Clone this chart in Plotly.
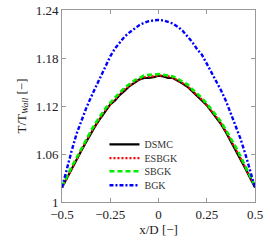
import plotly.graph_objects as go

x = [-0.5, -0.475, -0.45, -0.425, -0.4, -0.375, -0.35, -0.325, -0.3, -0.275,
     -0.25, -0.225, -0.2, -0.175, -0.15, -0.125, -0.1, -0.075, -0.05, -0.025,
     0.0, 0.025, 0.05, 0.075, 0.1, 0.125, 0.15, 0.175, 0.2, 0.225,
     0.25, 0.275, 0.3, 0.325, 0.35, 0.375, 0.4, 0.425, 0.45, 0.475, 0.5]

dsmc = [1.018, 1.030, 1.041, 1.052, 1.064, 1.075, 1.086, 1.096, 1.105, 1.114,
        1.122, 1.127, 1.134, 1.139, 1.145, 1.149, 1.153, 1.155, 1.155, 1.156,
        1.158, 1.157, 1.155, 1.155, 1.152, 1.148, 1.144, 1.138, 1.133, 1.127,
        1.121, 1.113, 1.105, 1.097, 1.087, 1.076, 1.065, 1.054, 1.042, 1.030, 1.018]

esbgk = [1.018, 1.030, 1.042, 1.053, 1.065, 1.076, 1.087, 1.097, 1.106, 1.115,
         1.122, 1.129, 1.135, 1.141, 1.146, 1.150, 1.153, 1.156, 1.157, 1.157,
         1.158, 1.158, 1.157, 1.155, 1.152, 1.149, 1.145, 1.139, 1.134, 1.128,
         1.121, 1.114, 1.106, 1.098, 1.088, 1.077, 1.066, 1.055, 1.043, 1.031, 1.019]

sbgk = [1.019, 1.032, 1.044, 1.055, 1.067, 1.078, 1.089, 1.099, 1.108, 1.117,
        1.124, 1.131, 1.137, 1.143, 1.148, 1.152, 1.155, 1.158, 1.159, 1.159,
        1.160, 1.159, 1.158, 1.157, 1.154, 1.151, 1.147, 1.141, 1.136, 1.130,
        1.123, 1.116, 1.108, 1.100, 1.090, 1.080, 1.069, 1.057, 1.045, 1.033, 1.020]

bgk = [1.018, 1.042, 1.064, 1.085, 1.102, 1.117, 1.131, 1.144, 1.157, 1.171,
       1.182, 1.192, 1.200, 1.207, 1.212, 1.217, 1.221, 1.224, 1.226, 1.227,
       1.2275, 1.227, 1.225, 1.223, 1.219, 1.214, 1.207, 1.200, 1.191, 1.184,
       1.173, 1.162, 1.150, 1.139, 1.126, 1.110, 1.096, 1.079, 1.060, 1.039, 1.018]

x_ticks = [-0.5, -0.25, 0, 0.25, 0.5]
x_tick_text = ["−0.5", "−0.25", "0", "0.25", "0.5"]
y_ticks = [1.0, 1.06, 1.12, 1.18, 1.24]
y_tick_text = ["1", "1.06", "1.12", "1.18", "1.24"]

FONT = "'Liberation Serif', 'DejaVu Serif', serif"

fig = go.Figure()
series = [
    ("DSMC", dsmc, "black", "solid", 2.2, "legend"),
    ("ESBGK", esbgk, "red", "2px,2px", 2.2, "legend2"),
    ("SBGK", sbgk, "#00ee00", "5px,3px", 2.6, "legend3"),
    ("BGK", bgk, "blue", "4px,2px,2px,2px", 2.4, "legend4"),
]
for name, ys, col, dash, w, lg in series:
    fig.add_trace(go.Scatter(x=x, y=ys, mode="lines", name=name,
                             line=dict(color=col, dash=dash, width=w),
                             legend=lg, showlegend=True))

leg_common = dict(bgcolor="rgba(0,0,0,0)", borderwidth=0,
                  font=dict(family=FONT, size=10, color="#333"),
                  xanchor="left", yanchor="middle", x=0.22,
                  itemwidth=30)
ys_leg = [0.300, 0.228, 0.160, 0.087]
fig.update_layout(
    width=270, height=250,
    showlegend=True,
    margin=dict(l=62, r=15, t=10, b=48),
    paper_bgcolor="white", plot_bgcolor="white",
    font=dict(family=FONT, size=13, color="#222"),
    legend=dict(leg_common, y=ys_leg[0]),
    legend2=dict(leg_common, y=ys_leg[1]),
    legend3=dict(leg_common, y=ys_leg[2]),
    legend4=dict(leg_common, y=ys_leg[3]),
    xaxis=dict(range=[-0.5, 0.5], tickvals=x_ticks, ticktext=x_tick_text,
               showgrid=False, zeroline=False, showline=True, automargin=False,
               linecolor="#999", linewidth=1, mirror="allticks",
               ticks="inside", ticklen=4, tickcolor="#999",
               tickfont=dict(family=FONT, size=13),
               title=dict(text="x/D [−]", standoff=4,
                          font=dict(family=FONT, size=13))),
    yaxis=dict(range=[1.0, 1.24], tickvals=y_ticks, ticktext=y_tick_text,
               showgrid=False, zeroline=False, showline=True, automargin=False,
               linecolor="#999", linewidth=1, mirror="allticks",
               ticks="inside", ticklen=4, tickcolor="#999",
               tickfont=dict(family=FONT, size=13),
               title=dict(text="T/T<sub><i>Wall</i></sub> [−]", standoff=6,
                          font=dict(family=FONT, size=13))),
)

fig.write_html("out.html",
               config={"displayModeBar": False},
               post_script="document.body.style.margin='0';document.body.style.padding='0';")
